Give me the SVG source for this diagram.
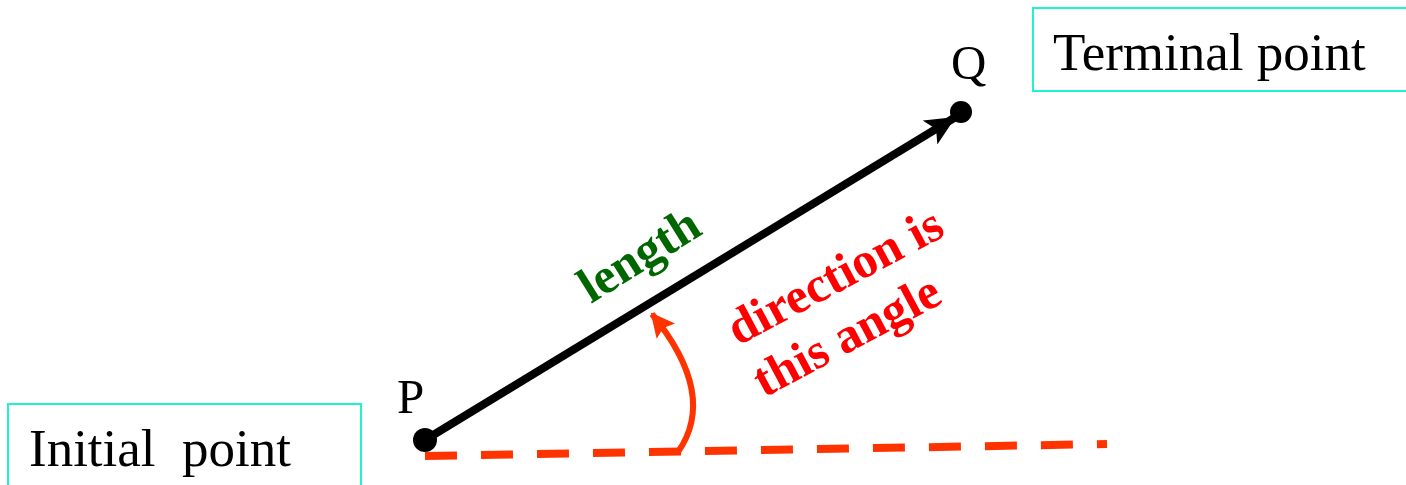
<svg xmlns="http://www.w3.org/2000/svg" width="1406" height="485" viewBox="0 0 1406 485">
<style>
.box{fill:#fff;stroke:#1EF2CF;stroke-width:2}
.lbl{font-family:"Liberation Serif",serif;font-size:53px;fill:#000}
.pt{font-family:"Liberation Serif",serif;font-size:49px;fill:#000}
.bold{font-family:"Liberation Serif",serif;font-weight:bold;font-size:50px}
</style>
<defs>
<marker id="ah" markerUnits="userSpaceOnUse" markerWidth="32" markerHeight="28" refX="28" refY="14" orient="auto">
<path d="M0,0 L30,14 L0,28 L7,14 Z" fill="#000"/>
</marker>
<marker id="rh" markerUnits="userSpaceOnUse" markerWidth="26" markerHeight="24" refX="22" refY="12" orient="auto">
<path d="M0,0 L24,12 L0,24 L4,12 Z" fill="#FF3300"/>
</marker>
</defs>
<g id="initial">
<rect class="box" x="8" y="404" width="353" height="95"/>
<text class="lbl" x="29" y="466" xml:space="preserve">Initial  point</text>
</g>
<g id="terminal">
<rect class="box" x="1033" y="8" width="390" height="83"/>
<text class="lbl" x="1053" y="70">Terminal point</text>
</g>
<g id="P">
<circle cx="425" cy="440" r="12" fill="#000"/>
<text class="pt" x="397" y="413">P</text>
</g>
<g id="Q">
<circle cx="961" cy="112" r="11" fill="#000"/>
<text class="pt" x="951" y="79">Q</text>
</g>
<g id="connectors">
<line x1="425" y1="440" x2="954" y2="118" stroke="#000" stroke-width="8" marker-end="url(#ah)"/>
<line x1="425" y1="456" x2="1107" y2="444" stroke="#FF3300" stroke-width="8" stroke-dasharray="32 24"/>
<path d="M678,452 Q718,395 652,314" fill="none" stroke="#FF3300" stroke-width="6" marker-end="url(#rh)"/>
</g>
<g id="labels">
<text class="bold" fill="#006600" font-size="54" transform="translate(591,304) rotate(-32)">length</text>
<text class="bold" fill="#FF0000" transform="translate(738,346) rotate(-28)">direction is</text>
<text class="bold" fill="#FF0000" transform="translate(764,398) rotate(-28)">this angle</text>
</g>
</svg>
